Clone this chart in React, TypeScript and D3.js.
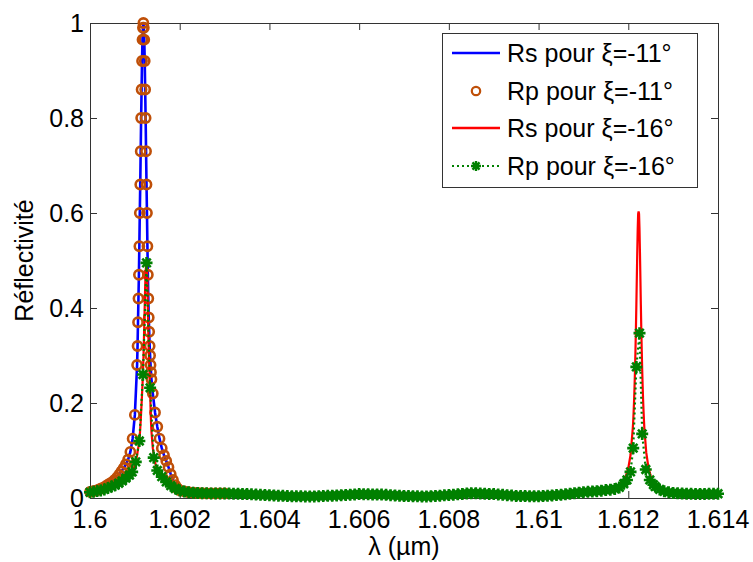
import React from "react";
import * as d3 from "d3";

const W = 753;
const H = 562;
const M = { left: 90, right: 718, top: 23, bottom: 498 };

const xTicks = [1.6, 1.602, 1.604, 1.606, 1.608, 1.61, 1.612, 1.614];
const xTickLabels = ["1.6", "1.602", "1.604", "1.606", "1.608", "1.61", "1.612", "1.614"];
const yTicks = [0, 0.2, 0.4, 0.6, 0.8, 1];
const yTickLabels = ["0", "0.2", "0.4", "0.6", "0.8", "1"];
const legendLabels = ["Rs pour ξ=-11°", "Rp pour ξ=-11°", "Rs pour ξ=-16°", "Rp pour ξ=-16°"];

// wavelength grid (µm) for Rs/Rp ξ=-11° and Rs ξ=-16°
const lambdaFine = [
  1.60000, 1.60005, 1.60010, 1.60015, 1.60020, 1.60025, 1.60030, 1.60035, 1.60040, 1.60045, 1.60050,
  1.60055, 1.60060, 1.60065, 1.60070, 1.60075, 1.60080, 1.60085, 1.60090, 1.60095, 1.60100, 1.60105,
  1.60106, 1.60107, 1.60108, 1.60109, 1.60110, 1.60111, 1.60112, 1.60113, 1.60114, 1.60115, 1.60116,
  1.60117, 1.60118, 1.60119, 1.60120, 1.60121, 1.60122, 1.60123, 1.60124, 1.60125, 1.60126, 1.60127,
  1.60128, 1.60129, 1.60130, 1.60131, 1.60132, 1.60133, 1.60134, 1.60135, 1.60136, 1.60137,
  1.60140, 1.60145, 1.60150, 1.60155, 1.60160, 1.60165, 1.60170, 1.60175, 1.60180, 1.60185, 1.60190,
  1.60195, 1.60200,
  1.6021, 1.6022, 1.6023, 1.6024, 1.6025, 1.6026, 1.6027, 1.6028, 1.6029, 1.6030,
  1.6031, 1.6032, 1.6033, 1.6034, 1.6035, 1.6036, 1.6037, 1.6038, 1.6039, 1.6040,
  1.6041, 1.6042, 1.6043, 1.6044, 1.6045, 1.6046, 1.6047, 1.6048, 1.6049, 1.6050,
  1.6051, 1.6052, 1.6053, 1.6054, 1.6055, 1.6056, 1.6057, 1.6058, 1.6059, 1.6060,
  1.6061, 1.6062, 1.6063, 1.6064, 1.6065, 1.6066, 1.6067, 1.6068, 1.6069, 1.6070,
  1.6071, 1.6072, 1.6073, 1.6074, 1.6075, 1.6076, 1.6077, 1.6078, 1.6079, 1.6080,
  1.6081, 1.6082, 1.6083, 1.6084, 1.6085, 1.6086, 1.6087, 1.6088, 1.6089, 1.6090,
  1.6091, 1.6092, 1.6093, 1.6094, 1.6095, 1.6096, 1.6097, 1.6098, 1.6099, 1.6100,
  1.6101, 1.6102, 1.6103, 1.6104, 1.6105, 1.6106, 1.6107, 1.6108, 1.6109, 1.6110,
  1.6111, 1.6112, 1.6113, 1.6114, 1.6115, 1.6116, 1.6117, 1.6118, 1.6119,
  1.61195, 1.61200, 1.61205, 1.61210,
  1.61211, 1.61212, 1.61213, 1.61214, 1.61215, 1.61216, 1.61217, 1.61218, 1.61219, 1.61220, 1.61221,
  1.61222, 1.61223, 1.61224, 1.61225, 1.61226, 1.61227, 1.61228, 1.61229, 1.61230, 1.61231, 1.61232,
  1.61233, 1.61234, 1.61235, 1.61236,
  1.61240, 1.61245, 1.61250, 1.61255,
  1.6126, 1.6127, 1.6128, 1.6129, 1.6130, 1.6131, 1.6132, 1.6133, 1.6134, 1.6135, 1.6136, 1.6137,
  1.6138, 1.6139, 1.6140,
];

// wavelength grid (µm) for Rp ξ=-16°
const lambdaRp16 = [
  1.60000, 1.60008, 1.60016, 1.60024, 1.60032, 1.60040, 1.60048, 1.60056, 1.60064, 1.60072, 1.60080,
  1.60088,
  1.60094, 1.60102, 1.60110, 1.60118, 1.60126, 1.60134, 1.60142, 1.60150,
  1.6016, 1.6017, 1.6018, 1.6019, 1.6020,
  1.6021, 1.6022, 1.6023, 1.6024, 1.6025, 1.6026, 1.6027, 1.6028, 1.6029, 1.6030,
  1.6031, 1.6032, 1.6033, 1.6034, 1.6035, 1.6036, 1.6037, 1.6038, 1.6039, 1.6040,
  1.6041, 1.6042, 1.6043, 1.6044, 1.6045, 1.6046, 1.6047, 1.6048, 1.6049, 1.6050,
  1.6051, 1.6052, 1.6053, 1.6054, 1.6055, 1.6056, 1.6057, 1.6058, 1.6059, 1.6060,
  1.6061, 1.6062, 1.6063, 1.6064, 1.6065, 1.6066, 1.6067, 1.6068, 1.6069, 1.6070,
  1.6071, 1.6072, 1.6073, 1.6074, 1.6075, 1.6076, 1.6077, 1.6078, 1.6079, 1.6080,
  1.6081, 1.6082, 1.6083, 1.6084, 1.6085, 1.6086, 1.6087, 1.6088, 1.6089, 1.6090,
  1.6091, 1.6092, 1.6093, 1.6094, 1.6095, 1.6096, 1.6097, 1.6098, 1.6099, 1.6100,
  1.6101, 1.6102, 1.6103, 1.6104, 1.6105, 1.6106, 1.6107, 1.6108, 1.6109, 1.6110,
  1.6111, 1.6112, 1.6113, 1.6114, 1.6115, 1.6116, 1.6117, 1.6118,
  1.61190, 1.61197, 1.61205, 1.61211, 1.61218, 1.61225, 1.61231, 1.61239, 1.61248, 1.61256,
  1.6126, 1.6127, 1.6128, 1.6129, 1.6130, 1.6131, 1.6132, 1.6133, 1.6134, 1.6135, 1.6136, 1.6137,
  1.6138, 1.6139, 1.6140,
];

// Rs and Rp for ξ=-11° (the two curves coincide), on lambdaFine up to 1.6030 µm
const r11 = [
  0.013, 0.014, 0.015, 0.016, 0.018, 0.020, 0.022, 0.025, 0.028, 0.031, 0.034,
  0.038, 0.043, 0.049, 0.056, 0.063, 0.071, 0.081, 0.097, 0.125, 0.175, 0.28,
  0.32, 0.37, 0.42, 0.47, 0.53, 0.60, 0.66, 0.73, 0.80, 0.86, 0.92, 0.965, 0.99, 1.0,
  0.99, 0.965, 0.92, 0.86, 0.80, 0.73, 0.66, 0.60, 0.53, 0.47, 0.42, 0.38, 0.35, 0.32,
  0.30, 0.28, 0.265, 0.25,
  0.22, 0.18, 0.15, 0.125, 0.105, 0.09, 0.078, 0.065, 0.05, 0.038, 0.027, 0.02, 0.016,
  0.014, 0.0122, 0.0112, 0.0105, 0.010, 0.0098, 0.0097, 0.0097, 0.0097, 0.0097,
];

// ξ=-16° : shared background ripple, λ 1.6021 → 1.6030 and 1.6031 → 1.6099
const head16 = [0.0135, 0.012, 0.011, 0.0105, 0.010, 0.0098, 0.0097, 0.0097, 0.0097, 0.0097];
const ripple16 = [
  0.0096, 0.0092, 0.0089, 0.0085, 0.0082, 0.0077, 0.0072, 0.0067, 0.0063, 0.0058,
  0.0054, 0.0049, 0.0045, 0.0040, 0.0036, 0.0035, 0.0035, 0.0034, 0.0034, 0.0034,
  0.0038, 0.0042, 0.0045, 0.0049, 0.0053, 0.0059, 0.0064, 0.0070, 0.0076, 0.0082,
  0.0080, 0.0078, 0.0076, 0.0074, 0.0072, 0.0066, 0.0060, 0.0054, 0.0048, 0.0042,
  0.0040, 0.0038, 0.0036, 0.0034, 0.0032, 0.0038, 0.0044, 0.0050, 0.0056, 0.0062,
  0.0070, 0.0078, 0.0086, 0.0094, 0.0102, 0.0098, 0.0094, 0.0090, 0.0086, 0.0082,
  0.0075, 0.0067, 0.0059, 0.0051, 0.0043, 0.0041, 0.0040, 0.0038, 0.0037,
];

// Rs ξ=-16° on lambdaFine
const rs16 = [
  0.012, 0.0126, 0.014, 0.0148, 0.0155, 0.0165, 0.0175, 0.019, 0.021, 0.0228, 0.025,
  0.027, 0.029, 0.032, 0.035, 0.038, 0.042, 0.045, 0.050, 0.057, 0.068, 0.09,
  0.097, 0.102, 0.108, 0.114, 0.12, 0.132, 0.146, 0.162, 0.18, 0.198, 0.218, 0.238, 0.26,
  0.29, 0.325, 0.365, 0.405, 0.445, 0.475, 0.49, 0.495, 0.485, 0.45, 0.40, 0.35, 0.31,
  0.28, 0.255, 0.232, 0.19, 0.16, 0.14,
  0.105, 0.075, 0.058, 0.051, 0.045, 0.039, 0.034, 0.03, 0.026, 0.023, 0.020, 0.018, 0.016,
  ...head16,
  ...ripple16,
  0.0038, 0.0043, 0.0050, 0.0056, 0.0063, 0.0071, 0.0082, 0.0094, 0.0105, 0.0118,
  0.0131, 0.0137, 0.0146, 0.0156, 0.0168, 0.0185, 0.0201, 0.0229, 0.0279, 0.038,
  0.0474, 0.0629, 0.0904, 0.1461,
  0.162, 0.183, 0.207, 0.236, 0.270, 0.310, 0.356, 0.407, 0.462, 0.517, 0.565, 0.598, 0.603,
  0.598, 0.565, 0.517, 0.462, 0.407, 0.356, 0.310, 0.270, 0.236, 0.207, 0.183, 0.162, 0.144,
  0.096, 0.064, 0.046, 0.035,
  0.0285, 0.0206, 0.0163, 0.0137, 0.0119, 0.0109, 0.0101, 0.0096, 0.0091, 0.0088, 0.0088,
  0.0088, 0.0088, 0.0089, 0.0089,
];

// Rp ξ=-16° on lambdaRp16
const rp16 = [
  0.012, 0.013, 0.015, 0.016, 0.018, 0.021, 0.024, 0.027, 0.031, 0.036, 0.042, 0.048,
  0.055, 0.076, 0.12, 0.26, 0.495, 0.232, 0.085, 0.058,
  0.045, 0.034, 0.026, 0.020, 0.016,
  ...head16,
  ...ripple16,
  0.0036, 0.0042, 0.0048, 0.0054, 0.0061, 0.0068, 0.0078, 0.0089, 0.0100, 0.0111,
  0.0123, 0.0129, 0.0136, 0.0144, 0.0154, 0.0166, 0.0175, 0.0192, 0.0223,
  0.030, 0.038, 0.055, 0.105, 0.276, 0.347, 0.135, 0.06, 0.038, 0.028,
  0.024, 0.018, 0.014, 0.012, 0.0105, 0.0098, 0.0094, 0.009, 0.0087, 0.0085, 0.0085,
  0.0086, 0.0087, 0.0088, 0.0089,
];

const BLUE = "#0000ff";
const ORANGE = "#bf4f08";
const RED = "#ff0000";
const GREEN = "#008000";
const FONT = "'Liberation Sans', Arial, sans-serif";

const starPath = (r: number) => {
  const a = r * 0.7071;
  return `M${-r},0L${r},0M0,${-r}L0,${r}M${-a},${-a}L${a},${a}M${-a},${a}L${a},${-a}`;
};

export default function App() {
  const x = d3.scaleLinear().domain([1.6, 1.614]).range([M.left, M.right]);
  const y = d3.scaleLinear().domain([0, 1]).range([M.bottom, M.top]);
  const line = d3
    .line<[number, number]>()
    .x((d) => x(d[0]))
    .y((d) => y(d[1]));

  const pts11: [number, number][] = r11.map((v, i) => [lambdaFine[i], v]);
  const ptsRs16: [number, number][] = rs16.map((v, i) => [lambdaFine[i], v]);
  const ptsRp16: [number, number][] = rp16.map((v, i) => [lambdaRp16[i], v]);

  const star = starPath(6);
  const tick = 7;
  const legend = { x: 442, y: 33, w: 255, h: 154 };
  const rowY = [53, 91, 128, 166];
  const lx0 = 452;
  const lx1 = 500;
  const lmid = 476;

  return (
    <svg
      width={W}
      height={H}
      style={{ position: "absolute", left: 0, top: 0, background: "#fff" }}
      fontFamily={FONT}
    >
      <rect x={0} y={0} width={W} height={H} fill="#fff" />
      {/* axes box */}
      <rect
        x={M.left + 0.5}
        y={M.top + 0.5}
        width={M.right - M.left}
        height={M.bottom - M.top}
        fill="none"
        stroke="#333"
        strokeWidth={1}
      />
      {xTicks.map((t, i) => (
        <g key={"xt" + i}>
          <line x1={x(t) + 0.5} x2={x(t) + 0.5} y1={M.bottom} y2={M.bottom - tick} stroke="#333" />
          <line x1={x(t) + 0.5} x2={x(t) + 0.5} y1={M.top} y2={M.top + tick} stroke="#333" />
          <text x={x(t)} y={528} fontSize={25} textAnchor="middle" fill="#000">
            {xTickLabels[i]}
          </text>
        </g>
      ))}
      {yTicks.map((t, i) => (
        <g key={"yt" + i}>
          <line x1={M.left} x2={M.left + tick} y1={y(t) + 0.5} y2={y(t) + 0.5} stroke="#333" />
          <line x1={M.right} x2={M.right - tick} y1={y(t) + 0.5} y2={y(t) + 0.5} stroke="#333" />
          <text x={84} y={y(t) + 9} fontSize={25} textAnchor="end" fill="#000">
            {yTickLabels[i]}
          </text>
        </g>
      ))}
      <text x={(M.left + M.right) / 2} y={555} fontSize={25} textAnchor="middle" fill="#000">
        λ (µm)
      </text>
      <text
        transform={`translate(33,${(M.top + M.bottom) / 2}) rotate(-90)`}
        fontSize={25}
        textAnchor="middle"
        fill="#000"
      >
        Réflectivité
      </text>

      {/* Rs ξ=-11° */}
      <path d={line(pts11) || ""} fill="none" stroke={BLUE} strokeWidth={2.6} />
      {/* Rp ξ=-11° */}
      {pts11.map((d, i) => (
        <circle key={"c" + i} cx={x(d[0])} cy={y(d[1])} r={4.6} fill="none" stroke={ORANGE} strokeWidth={2.6} />
      ))}
      {/* Rs ξ=-16° */}
      <path d={line(ptsRs16) || ""} fill="none" stroke={RED} strokeWidth={2.2} />
      {/* Rp ξ=-16° */}
      <path d={line(ptsRp16) || ""} fill="none" stroke={GREEN} strokeWidth={2.2} strokeDasharray="2,3" />
      {ptsRp16.map((d, i) => (
        <path
          key={"s" + i}
          d={star}
          transform={`translate(${x(d[0])},${y(d[1])})`}
          fill="none"
          stroke={GREEN}
          strokeWidth={2.6}
        />
      ))}

      {/* legend */}
      <rect x={legend.x + 0.5} y={legend.y + 0.5} width={legend.w} height={legend.h} fill="#fff" stroke="#333" />
      <line x1={lx0} x2={lx1} y1={rowY[0]} y2={rowY[0]} stroke={BLUE} strokeWidth={2.4} />
      <circle cx={lmid} cy={rowY[1]} r={4.2} fill="none" stroke={ORANGE} strokeWidth={2.2} />
      <line x1={lx0} x2={lx1} y1={rowY[2]} y2={rowY[2]} stroke={RED} strokeWidth={2.4} />
      <line x1={lx0} x2={lx1} y1={rowY[3]} y2={rowY[3]} stroke={GREEN} strokeWidth={2} strokeDasharray="2,3" />
      <path d={starPath(5)} transform={`translate(${lmid},${rowY[3]})`} fill="none" stroke={GREEN} strokeWidth={2.4} />
      {legendLabels.map((s, i) => (
        <text key={"lg" + i} x={507} y={rowY[i] + 9} fontSize={25} fill="#000">
          {s}
        </text>
      ))}
    </svg>
  );
}
